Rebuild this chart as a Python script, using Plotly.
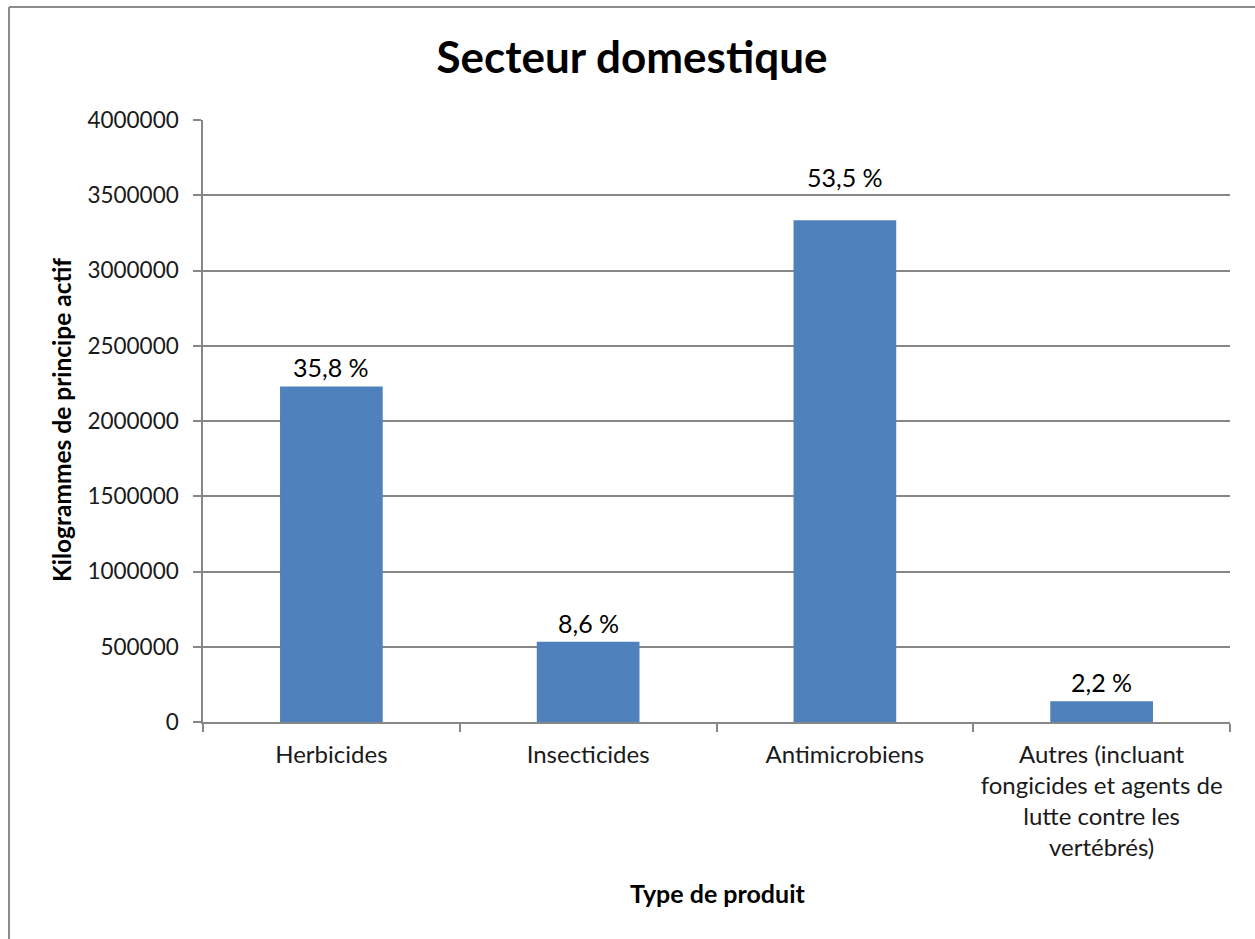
import plotly.graph_objects as go

# Product types and active ingredient quantities (kg)
categories = [
    "Herbicides",
    "Insecticides",
    "Antimicrobiens",
    "Autres (incluant<br>fongicides et agents de<br>lutte contre les<br>vertébrés)",
]
kilograms = [2229600, 533700, 3333300, 138400]
y_ticks = [0, 500000, 1000000, 1500000, 2000000, 2500000, 3000000, 3500000, 4000000]

total = sum(kilograms)
share_labels = [f"{v / total * 100:.1f}".replace(".", ",") + " %" for v in kilograms]

FONT = "Lato"
GRID = "#878787"
BLUE = "#4F81BD"

# Pixel gap between each bar top and its share label
label_gap = {"Antimicrobiens": 26}
DEFAULT_GAP = 2

fig = go.Figure(
    go.Bar(
        x=categories,
        y=kilograms,
        marker=dict(color=BLUE, line=dict(width=0)),
        hoverinfo="x+y",
    )
)

for cat, val, lab in zip(categories, kilograms, share_labels):
    fig.add_annotation(
        x=cat, y=val, xref="x", yref="y",
        text=lab,
        showarrow=False,
        xanchor="center", yanchor="bottom",
        yshift=label_gap.get(cat, DEFAULT_GAP),
        font=dict(family=FONT, size=25, color="#000000"),
    )

fig.update_layout(
    width=1255,
    height=939,
    margin=dict(l=203, r=25, t=120, b=217),
    paper_bgcolor="white",
    plot_bgcolor="white",
    bargap=0.6,
    showlegend=False,
    font=dict(family=FONT, color="#000000"),
    title=dict(
        text="Secteur domestique",
        font=dict(family=FONT, size=44, color="#000000", weight="bold"),
        x=632 / 1255,
        xref="container",
        xanchor="center",
        y=1 - 58 / 939,
        yref="container",
        yanchor="middle",
    ),
)

fig.update_xaxes(
    type="category",
    showline=True,
    linecolor=GRID,
    linewidth=1.5,
    ticks="outside",
    tickson="boundaries",
    ticklen=8,
    tickcolor=GRID,
    tickwidth=1.5,
    ticklabelstandoff=10,
    tickfont=dict(family=FONT, size=24, color="#1a1a1a"),
    showgrid=False,
)

fig.update_yaxes(
    range=[0, 4000000],
    tickvals=y_ticks,
    ticktext=[str(v) for v in y_ticks],
    showline=True,
    linecolor=GRID,
    linewidth=1.5,
    ticks="outside",
    ticklen=8,
    tickcolor=GRID,
    tickwidth=1.5,
    ticklabelstandoff=10,
    tickfont=dict(family=FONT, size=22.5, color="#1a1a1a"),
    showgrid=True,
    gridcolor=GRID,
    gridwidth=1.5,
    zeroline=False,
)

# Axis titles
fig.add_annotation(
    text="Kilogrammes de principe actif",
    xref="paper", yref="paper",
    x=(61 - 203) / 1027, y=(722 - 420) / 602,
    textangle=-90,
    showarrow=False,
    font=dict(family=FONT, size=24.5, color="#000000", weight="bold"),
    xanchor="center", yanchor="middle",
)
fig.add_annotation(
    text="Type de produit",
    xref="paper", yref="paper",
    x=(717 - 203) / 1027, y=(722 - 893) / 602,
    showarrow=False,
    font=dict(family=FONT, size=25, color="#000000", weight="bold"),
    xanchor="center", yanchor="middle",
)

# Chart frame (top and left edges)
frame_left = (9 - 203) / 1027
frame_top = (722 - 7) / 602
fig.add_shape(type="line", xref="paper", yref="paper",
              x0=frame_left, y0=frame_top, x1=1.1, y1=frame_top,
              line=dict(color="#8c8c8c", width=2))
fig.add_shape(type="line", xref="paper", yref="paper",
              x0=frame_left, y0=frame_top, x1=frame_left, y1=-0.5,
              line=dict(color="#8c8c8c", width=2))

fig.write_html("out.html")
